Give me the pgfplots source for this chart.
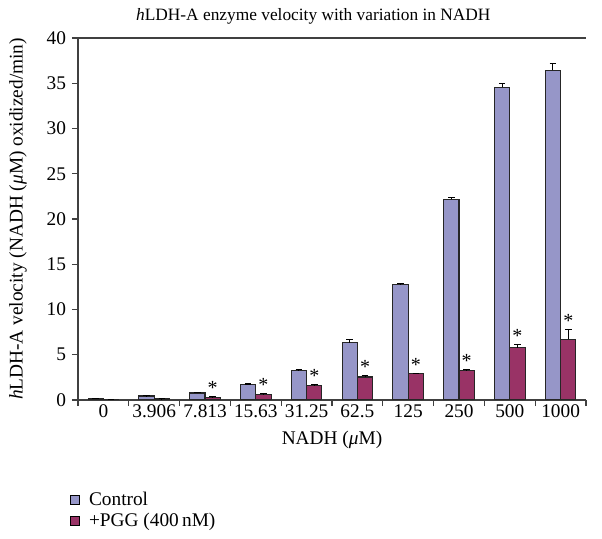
\documentclass[border=0pt]{standalone}
\usepackage{pgfplots}
\pgfplotsset{compat=1.18}
\usepackage{fontspec}
\setmainfont{Liberation Serif}
\definecolor{ctrlblue}{RGB}{150,150,200}
\definecolor{pggred}{RGB}{153,51,102}

\begin{document}
\begin{tikzpicture}
\useasboundingbox (-58.5pt,-103.5pt) rectangle (393pt,300pt);
\begin{axis}[
    scale only axis,
    width=381pt, height=271.5pt,
    ybar, bar width=11.5pt,
    xmin=-0.5, xmax=9.5, ymin=0, ymax=40,
    axis x line*=bottom, axis y line*=left,
    axis line style={line width=0.8pt, color=black!75},
    tick align=outside,
    tick style={line width=0.8pt, color=black!75},
    major tick length=4.5pt,
    ytick={0,5,...,40},
    xtick={-0.5,0.5,...,9.5}, xticklabels={},
    extra x ticks={0,1,...,9},
    extra x tick labels={0,3.906,7.813,15.63,31.25,62.5,125,250,500,1000},
    extra x tick style={major tick length=0pt},
    /pgf/number format/assume math mode=true,
    ticklabel style={font=\fontsize{14.5}{16}\selectfont},
    yticklabel style={xshift=-1pt},
    title={\textit{h}LDH-A enzyme velocity with variation in NADH},
    title style={font=\fontsize{13}{15}\selectfont, at={(0.5,1)}, anchor=south, xshift=-14pt, yshift=1pt},
    xlabel={NADH (\textit{μ}M)},
    ylabel={\textit{h}LDH-A velocity (NADH (\textit{μ}M) oxidized/min)},
    label style={font=\fontsize{14.5}{16}\selectfont},
    xlabel style={at={(axis description cs:0.5,-0.073)}, anchor=north},
    ylabel style={at={(axis description cs:-0.118,0.5)}, anchor=center},
    error bars/y dir=plus, error bars/y explicit,
    error bars/error bar style={line width=0.8pt, black},
    error bars/error mark options={black, line width=0.8pt, mark size=2.5pt, rotate=90},
    legend style={at={(-0.025,-0.24)}, anchor=north west, draw=none, fill=none,
        font=\fontsize{14.5}{16}\selectfont, row sep=0pt, column sep=5pt,
        legend cell align=left},
    legend image code/.code={\draw[#1, draw=black, line width=0.6pt] (0pt,-3.5pt) rectangle (7pt,3.5pt);},
]
\addplot[fill=ctrlblue, draw=black!85, line width=0.8pt, bar shift=-5.75pt]
coordinates {
(0,0.15) +- (0,0.05)
(1,0.44) +- (0,0.05)
(2,0.77) +- (0,0.08)
(3,1.69) +- (0,0.08)
(4,3.26) +- (0,0.08)
(5,6.33) +- (0,0.33)
(6,12.74) +- (0,0.15)
(7,22.2) +- (0,0.22)
(8,34.55) +- (0,0.45)
(9,36.43) +- (0,0.8)
};
\addlegendentry{Control}
\addplot[fill=pggred, draw=black!85, line width=0.8pt, bar shift=5.75pt]
coordinates {
(0,0.06) +- (0,0.02)
(1,0.12) +- (0,0.02)
(2,0.3) +- (0,0.05)
(3,0.63) +- (0,0.08)
(4,1.64) +- (0,0.06)
(5,2.54) +- (0,0.2)
(6,2.91) +- (0,0.06)
(7,3.24) +- (0,0.18)
(8,5.75) +- (0,0.35)
(9,6.7) +- (0,1.07)
};
\addlegendentry{+PGG (400\,nM)}
% significance stars, placed at the top of each PGG error bar
\addplot[draw=none, fill=none, bar shift=5.75pt, forget plot,
    nodes near coords={*},
    every node near coord/.append style={font=\fontsize{15}{15}\selectfont, inner sep=1.2pt, anchor=south}]
coordinates {
(2,0.35) (3,0.71) (4,1.70) (5,2.74) (6,2.97) (7,3.42) (8,6.1) (9,7.77)
};
\draw[line width=0.8pt, black!75] (rel axis cs:0,1) -- (rel axis cs:1,1);
\end{axis}
\end{tikzpicture}
\end{document}
